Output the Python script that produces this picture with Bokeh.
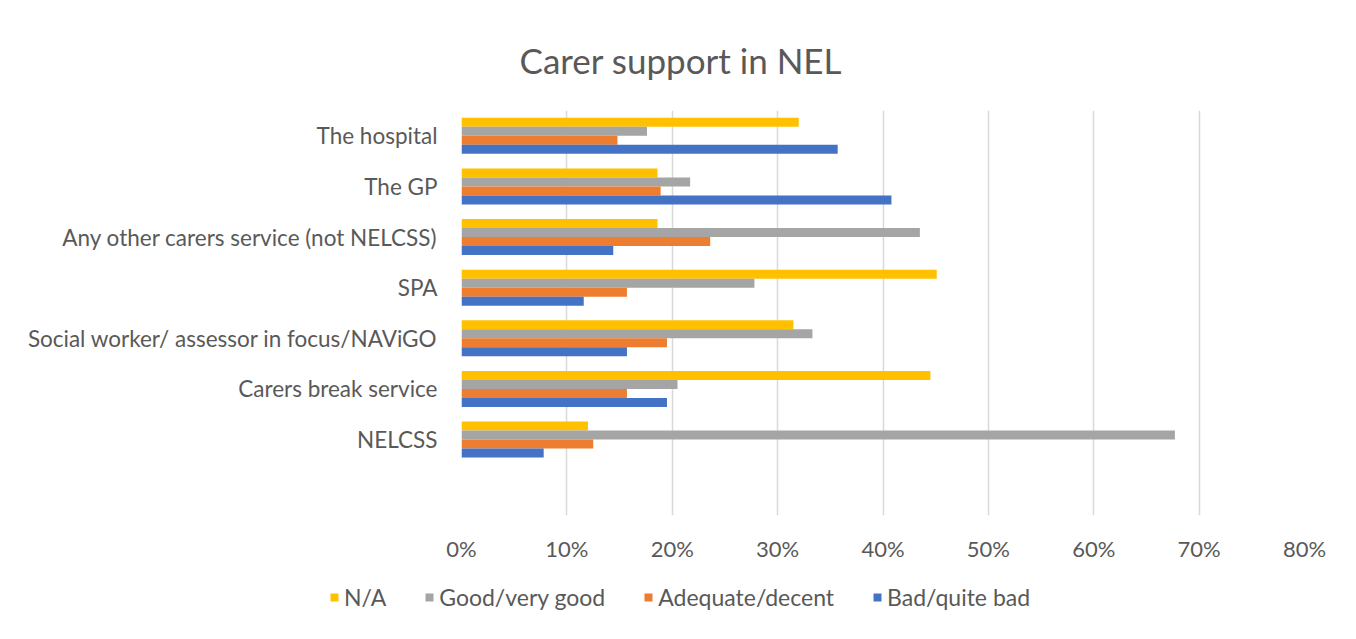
from bokeh.plotting import figure
from bokeh.layouts import column, row
from bokeh.models import (ColumnDataSource, FactorRange, Range1d, FixedTicker,
                          PrintfTickFormatter, Legend, LegendItem)
from bokeh.transform import dodge
from bokeh.embed import file_html
from bokeh.resources import INLINE

# ---- data (top-to-bottom order as shown in the chart) ----
categories = ["The hospital", "The GP", "Any other carers service (not NELCSS)", "SPA",
              "Social worker/ assessor in focus/NAViGO", "Carers break service", "NELCSS"]
na_vals = [32.0, 18.6, 18.6, 45.1, 31.5, 44.5, 12.0]
good_vals = [17.6, 21.7, 43.5, 27.8, 33.3, 20.5, 67.7]
adequate_vals = [14.8, 18.9, 23.6, 15.7, 19.5, 15.7, 12.5]
bad_vals = [35.7, 40.8, 14.4, 11.6, 15.7, 19.5, 7.8]
series_names = ["N/A", "Good/very good", "Adequate/decent", "Bad/quite bad"]
series_colors = ["#FFC000", "#A5A5A5", "#ED7D31", "#4472C4"]
x_ticks = [0, 10, 20, 30, 40, 50, 60, 70, 80]

FONT = "Lato"
TXT = "#595959"

source = ColumnDataSource(dict(cat=categories, na=na_vals, good=good_vals,
                               adequate=adequate_vals, bad=bad_vals))

# bottom-first factor list, with an empty slot below the last category
factors = [" "] + categories[::-1]

p = figure(frame_width=843, frame_height=405, output_backend="svg", toolbar_location=None,
           y_range=FactorRange(factors=factors, range_padding=0),
           x_range=Range1d(0, 80),
           min_border_left=461, min_border_right=36, min_border_top=110,
           min_border_bottom=55)

p.title.text = "Carer support in NEL"
p.title.align = "left"
p.title.offset = 58
p.title.text_font = FONT
p.title.text_font_size = "35px"
p.title.text_font_style = "normal"
p.title.text_color = TXT
p.title.standoff = 60

bh = 0.178
offsets = [1.5 * bh, 0.5 * bh, -0.5 * bh, -1.5 * bh]
fields = ["na", "good", "adequate", "bad"]
for f, off, col in zip(fields, offsets, series_colors):
    p.hbar(y=dodge("cat", off, range=p.y_range), right=f, left=0, height=bh,
           source=source, fill_color=col, line_color=None)

p.xaxis.ticker = FixedTicker(ticks=x_ticks)
p.xaxis.formatter = PrintfTickFormatter(format="%d%%")
for ax in (p.xaxis[0], p.yaxis[0]):
    ax.axis_line_color = None
    ax.major_tick_line_color = None
    ax.minor_tick_line_color = None
    ax.major_label_text_font = FONT
    ax.major_label_text_font_size = "22px"
    ax.major_label_text_color = TXT
p.yaxis.major_label_text_font_size = "22.5px"
p.xaxis.major_label_standoff = 13
p.yaxis.major_label_standoff = 18

p.xgrid.grid_line_color = "#d9d9d9"
p.xgrid.grid_line_width = 1.5
p.ygrid.grid_line_color = None
p.outline_line_color = None

# legend strip below the chart (zero-size swatch glyphs only feed the legend)
lg = figure(width=1340, height=60, output_backend="svg", toolbar_location=None,
            x_axis_type=None, y_axis_type=None, x_range=Range1d(0, 1), y_range=Range1d(0, 1),
            min_border_left=0, min_border_right=0, min_border_top=0, min_border_bottom=0)
lg.outline_line_color = None
lg.xgrid.grid_line_color = None
lg.ygrid.grid_line_color = None
swatch_src = ColumnDataSource(dict(y=[0], right=[0]))
swatches = []
for col in series_colors:
    swatches.append(lg.hbar(y="y", right="right", left=0, height=0, source=swatch_src,
                            fill_color=col, line_color=None))

legend = Legend(items=[LegendItem(label=n, renderers=[r]) for n, r in zip(series_names, swatches)],
                orientation="horizontal", location=(329, 19),
                label_text_font=FONT, label_text_font_size="23px", label_text_color=TXT,
                glyph_width=10, glyph_height=10, spacing=38, label_standoff=5,
                border_line_color=None, background_fill_alpha=0, margin=0, padding=4)
lg.add_layout(legend, "center")

layout = column(p, row(lg), spacing=0)
open("out.html", "w").write(file_html(layout, INLINE))
